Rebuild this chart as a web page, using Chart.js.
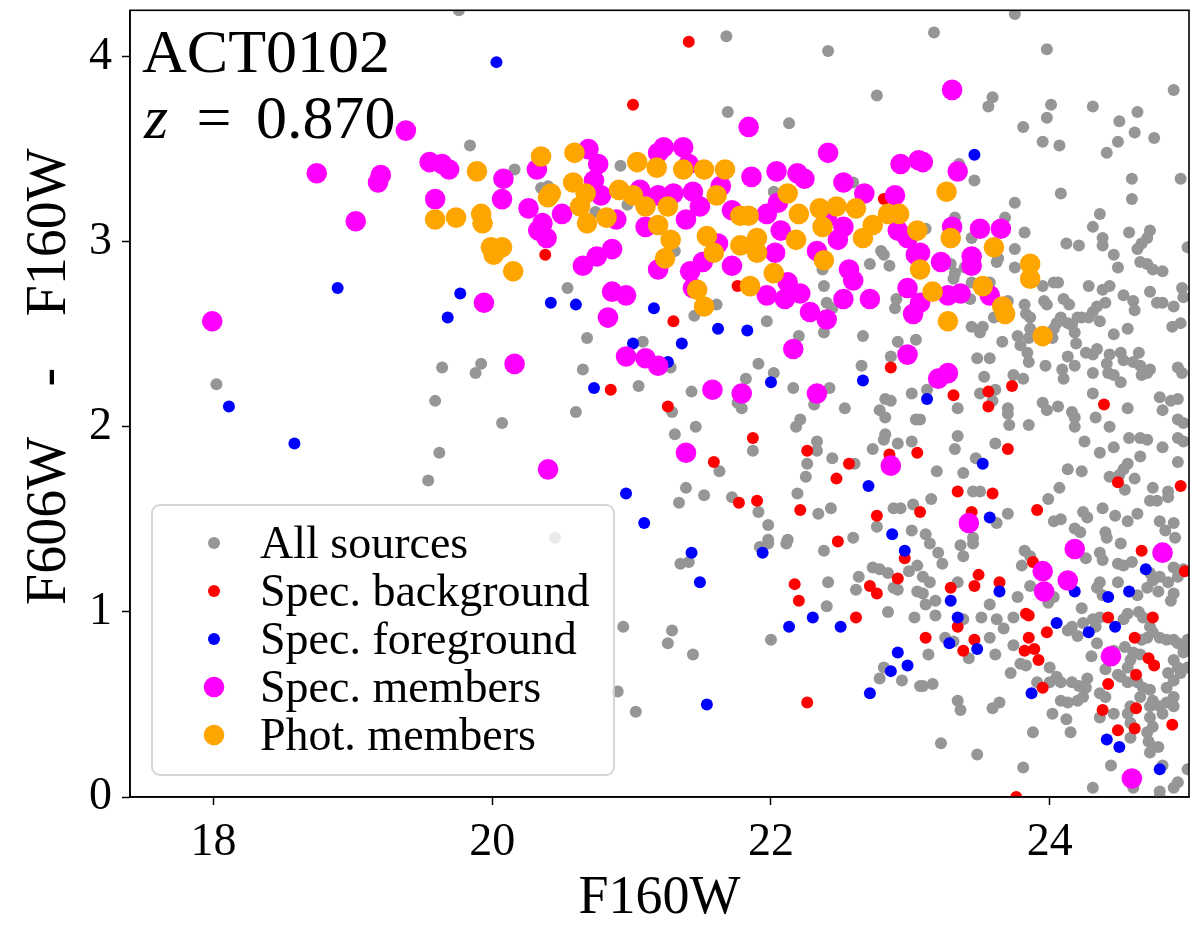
<!DOCTYPE html>
<html>
<head>
<meta charset="utf-8">
<script src="https://cdn.jsdelivr.net/npm/chart.js@4.4.1/dist/chart.umd.min.js"></script>
<style>
  html, body { margin: 0; padding: 0; background: #fff; }
  #wrap { width: 1200px; height: 937px; }
</style>
</head>
<body>
<div id="wrap"><canvas id="cmd" width="1200" height="937"></canvas></div>
<script>
// colour-magnitude diagram, ACT0102 – values as [F160W, F606W-F160W]

const clusterName = "ACT0102";
const clusterZ = "0.870";
const xTitle = "F160W";
const yTitleParts = ["F606W", "-", "F160W"];
const xTicks = [18, 20, 22, 24];
const yTicks = [0, 1, 2, 3, 4];
const seriesLabels = ["All sources", "Spec. background", "Spec. foreground", "Spec. members", "Phot. members"];

const allSources = [
  [19.76,4.25],[19.84,3.52],[20.16,3.39],[20.35,3.29],[20.40,3.30],[20.92,3.41],[20.74,3.16],[20.97,3.20],
  [21.68,4.11],[22.41,4.03],[22.76,3.79],[21.69,3.70],[22.13,3.64],[22.02,3.27],[22.59,3.32],[21.31,2.95],
  [22.71,2.88],[22.79,2.95],[22.81,2.93],[22.85,2.87],[22.37,2.85],[23.75,4.23],[23.17,4.13],[23.98,4.04],
  [24.89,3.82],[23.59,3.78],[23.56,3.73],[24.01,3.74],[23.98,3.67],[24.31,3.73],[24.63,3.70],[24.50,3.65],
  [24.61,3.59],[24.75,3.56],[24.49,3.54],[24.41,3.48],[23.81,3.62],[23.95,3.54],[24.07,3.52],[23.35,3.42],
  [23.46,3.33],[24.59,3.34],[24.94,3.34],[24.08,3.26],[24.59,3.23],[23.75,3.21],[24.36,3.15],[24.31,3.08],
  [24.38,3.02],[24.38,2.98],[24.46,2.93],[24.49,2.86],[24.57,3.05],[24.72,3.06],[24.70,3.02],[24.66,2.99],
  [24.63,2.96],[24.65,2.89],[24.70,2.88],[24.74,2.85],[24.81,2.84],[24.12,2.99],[24.21,2.98],[24.99,2.97],
  [23.68,3.13],[23.82,3.05],[23.32,3.13],[23.75,2.96],[23.63,2.91],[23.62,2.89],[23.29,2.88],[23.75,2.86],
  [23.32,2.83],[23.39,2.86],[23.11,3.07],[23.44,3.02],[18.02,2.23],[20.54,2.75],[20.68,2.48],[21.08,2.46],
  [19.64,2.32],[19.92,2.34],[19.88,2.29],[20.65,2.31],[21.05,2.22],[19.59,2.14],[20.60,2.08],[20.07,2.02],
  [19.62,1.86],[19.54,1.71],[20.45,1.40],[21.61,2.66],[22.38,2.76],[22.40,2.67],[22.44,2.64],[22.90,2.69],
  [22.89,2.64],[21.45,2.60],[21.97,2.57],[22.20,2.49],[22.38,2.51],[22.66,2.49],[22.91,2.46],[23.04,2.47],
  [22.86,2.38],[21.28,2.32],[21.91,2.34],[22.02,2.29],[21.82,2.26],[22.65,2.33],[21.43,2.19],[21.76,2.13],
  [21.79,2.10],[22.16,2.21],[22.42,2.21],[22.31,2.12],[22.53,2.10],[22.82,2.15],[22.86,2.14],[22.78,2.09],
  [22.82,2.05],[23.01,2.18],[23.04,2.04],[21.29,2.08],[21.46,2.00],[21.31,1.96],[22.21,2.04],[22.18,2.00],
  [21.87,1.87],[22.33,1.92],[22.33,1.87],[22.82,1.96],[22.81,1.93],[22.73,1.88],[22.91,1.91],[23.01,1.92],
  [21.63,1.76],[22.26,1.80],[22.25,1.73],[22.44,1.83],[22.60,1.80],[21.39,1.67],[21.52,1.63],[21.72,1.62],
  [21.34,1.59],[21.91,1.54],[22.19,1.64],[22.34,1.53],[22.43,1.56],[22.88,1.56],[22.93,1.56],[23.02,1.58],
  [21.98,1.47],[22.76,1.46],[23.01,1.44],[22.59,1.40],[22.12,1.39],[21.98,1.39],[23.31,2.80],[23.44,2.78],
  [23.43,2.69],[23.57,2.78],[23.95,2.76],[24.03,2.78],[24.06,2.78],[24.28,2.76],[24.38,2.74],[24.43,2.76],
  [24.53,2.71],[24.60,2.68],[24.61,2.63],[24.72,2.73],[24.77,2.67],[24.81,2.67],[24.89,2.65],[24.95,2.75],
  [24.96,2.70],[23.70,2.68],[23.82,2.66],[23.83,2.61],[23.96,2.68],[23.98,2.66],[24.10,2.69],[24.14,2.66],
  [24.40,2.67],[24.34,2.65],[24.31,2.62],[24.28,2.59],[24.23,2.59],[24.20,2.59],[24.08,2.59],[24.05,2.56],
  [24.13,2.56],[24.16,2.55],[24.36,2.57],[23.86,2.59],[23.60,2.59],[23.44,2.54],[23.52,2.54],[23.50,2.51],
  [24.56,2.53],[24.46,2.50],[23.77,2.49],[23.66,2.46],[23.86,2.53],[23.85,2.48],[24.03,2.53],[24.02,2.48],
  [24.18,2.51],[24.19,2.45],[24.88,2.54],[24.94,2.56],[23.79,2.44],[23.84,2.40],[24.26,2.40],[24.34,2.42],
  [24.31,2.39],[24.43,2.39],[24.51,2.40],[24.53,2.36],[24.64,2.40],[24.60,2.35],[24.65,2.33],[24.72,2.31],
  [24.13,2.38],[24.18,2.33],[24.41,2.34],[24.42,2.29],[24.46,2.28],[24.51,2.24],[23.48,2.37],[23.57,2.37],
  [23.85,2.35],[23.97,2.33],[24.09,2.31],[24.10,2.26],[24.31,2.29],[24.66,2.28],[24.70,2.29],[24.92,2.32],
  [24.95,2.29],[23.53,2.27],[23.74,2.28],[23.81,2.26],[23.50,2.18],[23.59,2.14],[23.61,2.20],[23.12,2.20],
  [23.34,2.10],[23.70,2.10],[23.70,2.07],[23.95,2.13],[23.98,2.09],[24.06,2.11],[24.16,2.08],[24.18,2.05],
  [24.18,2.00],[24.31,2.18],[24.33,2.05],[24.56,2.10],[24.79,2.16],[24.87,2.14],[24.92,2.15],[24.81,2.09],
  [24.92,2.04],[24.96,2.02],[23.71,2.01],[23.85,2.01],[24.43,2.00],[23.07,2.04],[23.34,1.95],[23.32,1.88],
  [23.61,1.91],[24.25,1.92],[24.36,1.86],[24.46,1.89],[24.57,1.94],[24.65,1.94],[24.70,1.93],[24.65,1.84],
  [24.81,1.89],[24.92,1.94],[24.96,1.92],[24.92,1.81],[23.47,1.83],[23.19,1.76],[23.38,1.75],[24.13,1.77],
  [24.23,1.76],[24.56,1.80],[24.53,1.77],[24.50,1.74],[24.43,1.73],[24.61,1.72],[24.54,1.66],[24.74,1.67],
  [24.85,1.65],[24.85,1.62],[24.72,1.60],[24.77,1.60],[24.07,1.67],[23.45,1.65],[23.50,1.65],[23.15,1.61],
  [23.99,1.61],[24.38,1.56],[24.24,1.54],[24.27,1.51],[24.47,1.52],[24.56,1.49],[24.63,1.53],[24.79,1.49],
  [24.89,1.48],[24.03,1.49],[24.08,1.50],[23.70,1.53],[23.62,1.48],[23.11,1.42],[23.45,1.40],[24.18,1.45],
  [24.22,1.43],[24.40,1.43],[24.41,1.40],[24.83,1.44],[24.90,1.40],[20.94,0.92],[20.90,0.57],[21.03,0.46],
  [21.35,1.26],[21.41,1.27],[21.92,1.35],[21.98,1.37],[22.11,1.37],[22.38,1.33],[22.73,1.24],[22.78,1.23],
  [22.84,1.21],[22.99,1.22],[23.05,1.25],[22.63,1.19],[22.61,1.12],[22.88,1.13],[22.91,1.12],[23.05,1.11],
  [22.41,1.16],[22.40,1.03],[22.84,1.00],[23.03,0.97],[22.00,0.85],[21.29,0.90],[21.26,0.83],[21.44,0.77],
  [22.81,0.70],[22.78,0.64],[22.94,0.63],[23.07,0.60],[23.14,1.37],[23.20,1.32],[23.36,1.36],[23.45,1.37],
  [23.38,1.30],[23.23,1.26],[23.82,1.33],[23.80,1.25],[23.86,1.30],[23.34,1.16],[23.14,1.16],[23.09,1.10],
  [23.18,1.06],[23.57,1.04],[23.51,0.97],[23.62,0.96],[23.67,0.91],[23.74,0.97],[23.77,1.08],[23.86,1.14],
  [23.99,1.05],[24.03,1.08],[23.18,0.98],[23.38,0.96],[23.25,0.86],[23.31,0.84],[23.57,0.86],[23.42,0.75],
  [23.13,0.77],[23.61,0.77],[23.74,0.82],[23.79,0.72],[23.72,0.67],[23.83,0.71],[24.00,0.70],[24.05,0.65],
  [24.08,0.62],[24.00,0.62],[23.91,0.62],[23.09,0.60],[23.16,0.61],[24.16,0.62],[24.21,0.60],[24.27,0.64],
  [24.26,0.59],[24.13,0.90],[24.20,0.87],[24.16,0.92],[24.24,0.94],[24.31,0.96],[24.36,0.97],[24.33,0.92],
  [24.23,1.02],[24.30,0.76],[24.34,0.83],[24.40,0.69],[24.49,0.66],[24.36,0.56],[24.40,0.54],[24.46,0.79],
  [24.49,1.16],[24.36,1.16],[24.34,1.13],[24.38,1.09],[24.36,1.32],[24.38,1.28],[24.49,1.26],[24.53,1.25],
  [24.59,1.27],[24.26,1.29],[24.51,1.37],[24.72,1.21],[24.74,1.17],[24.79,1.19],[24.85,1.16],[24.92,1.19],
  [24.96,1.23],[24.89,1.24],[24.78,1.11],[24.89,1.10],[24.87,1.06],[24.63,1.09],[24.70,1.13],[24.53,0.96],
  [24.56,0.99],[24.64,1.00],[24.67,0.97],[24.72,0.92],[24.74,0.89],[24.70,0.86],[24.66,0.85],[24.79,0.86],
  [24.84,0.85],[24.89,0.85],[24.92,0.83],[24.96,0.81],[24.99,0.85],[24.54,0.81],[24.60,0.78],[24.65,0.77],
  [24.58,0.74],[24.56,0.70],[24.51,0.65],[24.56,0.62],[24.63,0.62],[24.67,0.59],[24.65,0.54],[24.72,0.58],
  [24.74,0.52],[24.72,0.49],[24.79,0.49],[24.84,0.51],[24.89,0.54],[24.84,0.59],[24.89,0.63],[24.94,0.67],
  [24.99,0.70],[24.96,0.78],[24.89,0.74],[24.92,0.70],[24.85,0.67],[24.89,0.49],[24.81,0.45],[24.58,0.32],
  [24.71,0.30],[24.74,0.27],[24.72,0.24],[24.78,0.27],[24.81,0.17],[24.92,0.08],[24.89,0.05],[24.79,0.03],
  [24.79,0.00],[24.99,0.15],[24.60,0.05],[24.44,0.17],[24.31,0.05],[23.81,0.16],[23.48,0.23],[23.22,0.29],
  [23.88,0.35],[24.15,0.35],[24.12,0.42],[24.02,0.45],[23.59,0.48],[23.64,0.51],[23.34,0.52],[23.36,0.47],
  [24.08,0.52],[24.13,0.51],[24.20,0.52],[24.24,0.54],[24.36,0.43],[24.46,0.45],[24.58,0.49],[24.56,0.45],
  [24.58,0.40],[24.72,0.43],[24.74,0.38],[24.70,0.35],[23.09,1.19],[23.11,1.04]
];

const specBackground = [
  [21.01,3.74],[20.38,2.93],[21.41,4.08],[22.81,3.23],[20.85,2.20],[21.76,2.76],[21.30,2.57],[22.86,2.32],
  [21.26,2.11],[21.87,1.94],[22.26,1.87],[22.85,1.85],[23.05,1.86],[21.59,1.81],[22.56,1.80],[22.47,1.72],
  [21.77,1.59],[21.90,1.60],[22.21,1.55],[22.76,1.52],[23.07,1.54],[22.48,1.38],[23.73,2.22],[23.31,2.17],
  [23.56,2.19],[23.56,2.11],[24.39,2.12],[23.70,1.88],[24.49,1.70],[24.94,1.68],[23.34,1.65],[23.59,1.64],
  [23.91,1.55],[23.44,1.54],[22.96,1.29],[22.91,1.18],[22.71,1.14],[22.76,1.10],[22.17,1.15],[22.20,1.06],
  [22.61,0.97],[22.26,0.51],[24.66,1.33],[24.97,1.22],[23.88,1.27],[23.49,1.20],[23.46,1.14],[23.64,1.16],
  [23.29,1.13],[23.34,0.92],[23.11,0.86],[23.38,0.79],[23.46,0.85],[23.83,0.99],[23.85,0.98],[23.98,0.89],
  [23.85,0.86],[23.82,0.79],[23.89,0.80],[23.92,0.74],[24.42,0.97],[24.74,0.97],[24.61,0.86],[24.71,0.75],
  [24.75,0.71],[24.62,0.66],[24.42,0.61],[23.95,0.59],[24.38,0.47],[24.62,0.48],[24.88,0.39],[24.49,0.36],
  [24.61,0.37],[23.76,0.00]
];

const specForeground = [
  [20.03,3.97],[23.46,3.47],[18.89,2.75],[18.11,2.11],[18.58,1.91],[19.77,2.72],[20.42,2.67],[20.60,2.66],
  [21.16,2.64],[19.68,2.59],[21.01,2.45],[20.73,2.21],[20.96,1.64],[21.09,1.48],[21.62,2.53],[21.83,2.52],
  [21.36,2.45],[21.26,2.35],[22.00,2.24],[22.66,2.25],[22.70,1.68],[22.87,1.42],[23.12,2.15],[23.52,1.80],
  [23.57,1.51],[21.43,1.32],[21.49,1.16],[21.94,1.32],[22.96,1.33],[22.30,0.97],[22.13,0.92],[22.50,0.92],
  [22.91,0.78],[22.98,0.71],[22.86,0.68],[22.71,0.56],[21.54,0.50],[24.69,1.23],[24.57,1.11],[24.42,1.08],
  [24.18,1.11],[23.64,1.11],[23.29,1.06],[23.34,0.97],[23.28,0.83],[23.48,0.80],[24.05,0.94],[24.28,0.89],
  [24.47,0.92],[23.87,0.56],[24.41,0.31],[24.50,0.27],[24.79,0.15]
];

const specMembers = [
  [19.38,3.60],[18.74,3.37],[19.20,3.36],[19.18,3.32],[19.02,3.11],[19.55,3.43],[19.64,3.42],[19.69,3.39],
  [20.08,3.34],[20.32,3.39],[20.69,3.50],[20.76,3.42],[20.73,3.33],[21.19,3.48],[19.59,3.23],[20.07,3.23],
  [20.26,3.18],[20.50,3.15],[20.33,3.06],[20.39,3.02],[20.36,3.10],[20.78,3.25],[20.89,3.12],[21.06,3.28],
  [21.10,3.08],[21.19,3.25],[20.65,2.87],[20.75,2.92],[20.86,2.96],[21.19,2.85],[21.84,3.62],[22.41,3.48],
  [22.93,3.42],[23.06,3.44],[21.23,3.51],[21.37,3.51],[21.41,3.42],[21.86,3.35],[22.04,3.38],[22.19,3.37],
  [22.24,3.34],[22.52,3.32],[22.67,3.26],[22.89,3.25],[21.64,3.30],[21.30,3.26],[21.44,3.27],[21.49,3.19],
  [21.39,3.12],[21.72,3.17],[21.97,3.15],[22.05,3.21],[22.40,3.13],[22.52,3.08],[22.48,3.01],[22.91,3.06],
  [22.98,3.02],[22.07,3.06],[22.03,2.94],[21.62,2.99],[21.51,2.89],[21.42,2.84],[21.72,2.87],[22.33,2.95],
  [22.56,2.85],[23.04,2.93],[23.30,3.82],[23.09,3.43],[23.34,3.38],[23.30,3.08],[23.50,3.07],[23.65,3.07],
  [23.07,2.94],[23.22,2.89],[23.44,2.92],[23.44,2.87],[17.99,2.57],[19.94,2.67],[20.86,2.73],[20.96,2.71],
  [20.83,2.59],[20.96,2.38],[21.10,2.37],[21.19,2.33],[20.16,2.34],[20.40,1.77],[21.44,2.75],[21.97,2.71],
  [22.10,2.69],[22.21,2.72],[22.12,2.78],[22.28,2.62],[22.40,2.58],[22.52,2.69],[22.71,2.69],[22.59,2.79],
  [23.02,2.61],[22.98,2.75],[23.07,2.67],[22.16,2.42],[22.98,2.39],[21.58,2.20],[21.79,2.18],[22.33,2.18],
  [21.39,1.86],[22.86,1.79],[23.27,2.71],[23.36,2.72],[23.57,2.71],[23.20,2.26],[23.27,2.29],[23.42,1.48],
  [24.18,1.34],[24.81,1.32],[23.95,1.22],[24.13,1.17],[23.96,1.11],[24.44,0.76],[24.59,0.10]
];

const photMembers = [
  [19.89,3.38],[20.35,3.46],[20.59,3.48],[21.04,3.43],[21.18,3.40],[19.59,3.12],[19.74,3.13],[19.92,3.15],
  [19.93,3.10],[20.42,3.26],[20.40,3.24],[20.58,3.32],[20.67,3.26],[20.63,3.19],[20.68,3.10],[20.82,3.13],
  [20.91,3.28],[21.01,3.25],[21.10,3.19],[21.19,3.09],[19.99,2.97],[20.07,2.97],[20.01,2.93],[20.15,2.84],
  [21.24,2.91],[21.37,3.39],[21.52,3.39],[21.67,3.39],[22.12,3.26],[21.61,3.25],[21.26,3.19],[21.78,3.14],
  [21.84,3.14],[22.20,3.15],[22.35,3.18],[22.47,3.19],[22.61,3.18],[22.84,3.15],[22.92,3.15],[22.37,3.08],
  [22.73,3.09],[22.66,3.02],[23.05,3.06],[21.28,3.01],[21.54,3.03],[21.90,3.02],[21.78,2.98],[21.90,2.94],
  [22.18,3.01],[21.59,2.94],[22.02,2.83],[22.38,2.90],[23.07,2.85],[23.26,3.27],[23.29,3.02],[23.60,2.97],
  [23.86,2.88],[21.47,2.74],[21.52,2.65],[21.85,2.76],[23.16,2.73],[23.52,2.76],[23.86,2.80],[23.66,2.65],
  [23.68,2.61],[23.27,2.57],[23.95,2.49]
];

const SERIF = '"Liberation Serif", "Times New Roman", serif';
const toPts = arr => arr.map(([x, y]) => ({ x, y }));

function series(label, data, color, radius, order) {
  return {
    label, data: toPts(data),
    backgroundColor: color, borderWidth: 0,
    pointRadius: radius, pointHoverRadius: radius, pointBorderWidth: 0,
    order, clip: 0
  };
}

// legend box in lower-left of the axes, matplotlib style
const legendBox = {
  id: "legendBox",
  afterDatasetsDraw(chart) {
    const { ctx, chartArea: a } = chart;
    const x0 = a.left + 22, y0 = a.bottom - 292, w = 462, h = 270, r = 8;
    ctx.save();
    ctx.beginPath();
    ctx.roundRect(x0, y0, w, h, r);
    ctx.fillStyle = "rgba(255,255,255,0.8)";
    ctx.fill();
    ctx.lineWidth = 2;
    ctx.strokeStyle = "rgba(204,204,204,0.8)";
    ctx.stroke();
    ctx.font = "46px " + SERIF;
    ctx.textBaseline = "alphabetic";
    ctx.textAlign = "left";
    chart.data.datasets.forEach((ds, i) => {
      const cy = y0 + 38 + i * 48;
      ctx.beginPath();
      ctx.arc(x0 + 62, cy, ds.pointRadius, 0, Math.PI * 2);
      ctx.fillStyle = ds.backgroundColor;
      ctx.fill();
      ctx.fillStyle = "#000";
      ctx.fillText(ds.label, x0 + 108, cy + 15);
    });
    ctx.restore();
  }
};

// frame on all four sides, cluster label, y-axis title
const frameAndLabel = {
  id: "frameAndLabel",
  afterDraw(chart) {
    const { ctx, chartArea: a } = chart;
    ctx.save();
    ctx.strokeStyle = "#000";
    ctx.lineWidth = 1.6;
    ctx.strokeRect(a.left, a.top, a.right - a.left, a.bottom - a.top);
    ctx.fillStyle = "#000";
    ctx.textBaseline = "alphabetic";
    ctx.textAlign = "left";
    ctx.font = "62px " + SERIF;
    ctx.fillText(clusterName, a.left + 12, a.top + 62);
    ctx.font = "italic 62px " + SERIF;
    ctx.fillText("z", a.left + 14, a.top + 128);
    ctx.font = "62px " + SERIF;
    ctx.textAlign = "center";
    ctx.fillText("=", a.left + 84, a.top + 128);
    ctx.textAlign = "left";
    ctx.fillText(clusterZ, a.left + 126, a.top + 128);

    // y title, read bottom to top
    ctx.font = "56px " + SERIF;
    ctx.textBaseline = "middle";
    const tx = 50;
    const put = (txt, y, align) => {
      ctx.save();
      ctx.translate(tx, y);
      ctx.rotate(-Math.PI / 2);
      ctx.textAlign = align;
      ctx.fillText(txt, 0, 0);
      ctx.restore();
    };
    put(yTitleParts[0], a.bottom - 192, "left");
    put(yTitleParts[1], a.top + 367, "center");
    put(yTitleParts[2], a.top + 138, "right");
    ctx.restore();
  }
};

new Chart(document.getElementById("cmd"), {
  type: "scatter",
  data: {
    datasets: [
      series(seriesLabels[0], allSources, "#969696", 6, 5),
      series(seriesLabels[1], specBackground, "#ff0000", 6, 4),
      series(seriesLabels[2], specForeground, "#0000ff", 6, 3),
      series(seriesLabels[3], specMembers, "#ff00ff", 10.3, 2),
      series(seriesLabels[4], photMembers, "#ffa500", 10.3, 1)
    ]
  },
  options: {
    responsive: false,
    animation: false,
    devicePixelRatio: 1,
    events: [],
    layout: { padding: { top: 10, right: 11, left: 0, bottom: 0 } },
    plugins: { legend: { display: false }, tooltip: { enabled: false } },
    scales: {
      x: {
        type: "linear", position: "bottom", min: 17.4, max: 25.0,
        afterBuildTicks: s => { s.ticks = xTicks.map(v => ({ value: v })); },
        afterFit: s => { s.height = 140; s.paddingLeft = 0; s.paddingRight = 0; },
        ticks: { color: "#000", font: { family: SERIF, size: 46 }, padding: 10, maxRotation: 0 },
        grid: { drawOnChartArea: false, drawTicks: true, tickLength: 8, tickWidth: 1.5, tickColor: "#000" },
        border: { display: true, color: "#000", width: 1.6 },
        title: { display: true, text: xTitle, color: "#000", font: { family: SERIF, size: 54 }, padding: { top: 0, bottom: 6 } }
      },
      y: {
        type: "linear", position: "left", min: 0, max: 4.25,
        afterBuildTicks: s => { s.ticks = yTicks.map(v => ({ value: v })); },
        afterFit: s => { s.width = 130; s.paddingTop = 0; s.paddingBottom = 0; },
        ticks: { color: "#000", font: { family: SERIF, size: 46 }, padding: 10 },
        grid: { drawOnChartArea: false, drawTicks: true, tickLength: 8, tickWidth: 1.5, tickColor: "#000" },
        border: { display: true, color: "#000", width: 1.6 },
        title: { display: false }
      }
    }
  },
  plugins: [legendBox, frameAndLabel]
});
</script>
</body>
</html>
